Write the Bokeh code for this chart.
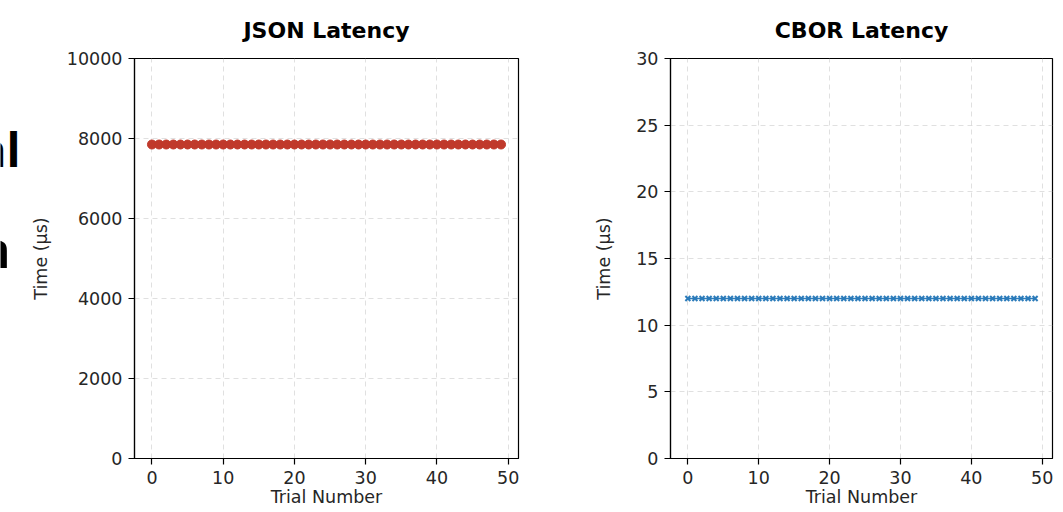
from bokeh.plotting import figure
from bokeh.models import Range1d, FixedTicker
from bokeh.core.properties import value
from bokeh.layouts import row
from bokeh.embed import file_html
from bokeh.resources import INLINE

# ---- data ----
trials = list(range(50))
json_us = [7850, 7850, 7850, 7850, 7850, 7850, 7850, 7850, 7850, 7850,
           7850, 7850, 7850, 7850, 7850, 7850, 7850, 7850, 7850, 7850,
           7850, 7850, 7850, 7850, 7850, 7850, 7850, 7850, 7850, 7850,
           7850, 7850, 7850, 7850, 7850, 7850, 7850, 7850, 7850, 7850,
           7850, 7850, 7850, 7850, 7850, 7850, 7850, 7850, 7850, 7850]
cbor_us = [12.0, 12.0, 12.0, 12.0, 12.0, 12.0, 12.0, 12.0, 12.0, 12.0,
           12.0, 12.0, 12.0, 12.0, 12.0, 12.0, 12.0, 12.0, 12.0, 12.0,
           12.0, 12.0, 12.0, 12.0, 12.0, 12.0, 12.0, 12.0, 12.0, 12.0,
           12.0, 12.0, 12.0, 12.0, 12.0, 12.0, 12.0, 12.0, 12.0, 12.0,
           12.0, 12.0, 12.0, 12.0, 12.0, 12.0, 12.0, 12.0, 12.0, 12.0]
x_ticks = [0, 10, 20, 30, 40, 50]
json_y_ticks = [0, 2000, 4000, 6000, 8000, 10000]
cbor_y_ticks = [0, 5, 10, 15, 20, 25, 30]
json_title = "JSON Latency"
cbor_title = "CBOR Latency"
x_label = "Trial Number"
y_label = "Time (µs)"
# fragments of slide text cut off at the left edge
side_text_1 = "al"
side_text_2 = "n"

FONT = "DejaVu Sans"
TICK_SIZE = "17.5px"
H = 512
X0, X1 = -2.45, 51.45


def make(width, left, right, y0, y1, yticks, title, ylab_standoff):
    p = figure(width=width, height=H, output_backend="svg", toolbar_location=None,
               x_range=Range1d(X0, X1), y_range=Range1d(y0, y1),
               min_border_left=left, min_border_right=right,
               min_border_top=58, min_border_bottom=54)
    p.background_fill_color = "white"
    p.border_fill_color = "white"
    p.outline_line_color = "black"
    p.outline_line_width = 1.2
    p.title.text = title
    p.title.text_font = FONT
    p.title.text_font_size = "22px"
    p.title.text_font_style = "bold"
    p.title.align = "center"
    p.title.text_color = "black"
    p.title.standoff = 31
    for ax in (p.xaxis[0], p.yaxis[0]):
        ax.axis_line_color = "black"
        ax.axis_line_width = 1.2
        ax.major_tick_line_color = "black"
        ax.major_tick_line_width = 1.2
        ax.major_tick_out = 6
        ax.major_tick_in = 0
        ax.minor_tick_line_color = None
        ax.major_label_text_font = FONT
        ax.major_label_text_font_size = TICK_SIZE
        ax.major_label_text_color = "#262626"
        ax.major_label_standoff = 6
        ax.axis_label_text_font = FONT
        ax.axis_label_text_font_size = TICK_SIZE
        ax.axis_label_text_font_style = "normal"
        ax.axis_label_text_color = "#262626"
    p.xaxis.ticker = FixedTicker(ticks=x_ticks)
    p.yaxis.ticker = FixedTicker(ticks=yticks)
    p.yaxis.axis_label = y_label
    p.yaxis.axis_label_standoff = ylab_standoff
    p.xaxis.axis_label = x_label
    p.xaxis.axis_label_standoff = 0
    for g in (p.xgrid[0], p.ygrid[0]):
        g.grid_line_color = "#cccccc"
        g.grid_line_alpha = 0.6
        g.grid_line_dash = "5 4"
        g.grid_line_width = 1
    p.xgrid.ticker = FixedTicker(ticks=x_ticks)
    p.ygrid.ticker = FixedTicker(ticks=yticks)
    return p


# narrow strip at the far left holding the cut-off slide text
# (its frame is aligned with the plots' frames: y 58..458 on the page)
p0 = figure(width=20, height=H, output_backend="svg", toolbar_location=None,
            title=None, x_axis_type=None, y_axis_type=None,
            x_range=Range1d(0, 20), y_range=Range1d(458, 58),
            min_border_left=0, min_border_right=0,
            min_border_top=58, min_border_bottom=54, outline_line_color=None)
p0.grid.visible = False
p0.border_fill_color = "white"
p0.text(x=[20], y=[148], text=[side_text_1], text_align="right",
        text_baseline="alphabetic", text_font=value("Open Sans"),
        text_font_size="46px", text_font_style="bold", text_color="black")
p0.text(x=[10], y=[248], text=[side_text_2], text_align="right",
        text_baseline="alphabetic", text_font=value("Open Sans"),
        text_font_size="50px", text_font_style="bold", text_color="black")

p1 = make(540, 114, 42, 0, 10000, json_y_ticks, json_title, 13)
p1.line(trials, json_us, line_color="#c0392b", line_width=2)
p1.scatter(trials, json_us, marker="circle", size=9, fill_color="#c0392b",
           line_color="#c0392b")

p2 = make(500, 110, 8, 0, 30, cbor_y_ticks, cbor_title, 19)
p2.line(trials, cbor_us, line_color="#2b7bba", line_width=1.5)
p2.scatter(trials, cbor_us, marker="x", size=7, line_color="#2b7bba", line_width=2)

layout = row(p0, p1, p2)
open("out.html", "w").write(file_html(layout, INLINE))
